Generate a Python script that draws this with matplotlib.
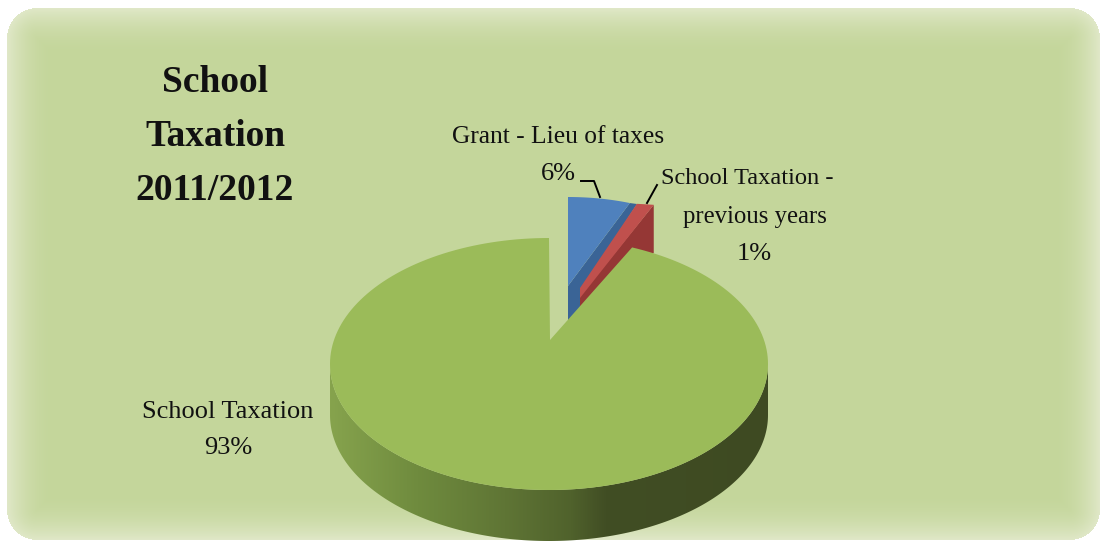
import numpy as np
import matplotlib.pyplot as plt
from matplotlib.colors import LinearSegmentedColormap
from matplotlib.patches import Polygon

# School tax revenue shares, in percent
categories = ['School Taxation', 'Grant - Lieu of taxes', 'School Taxation -\nprevious years']
shares = [93, 6, 1]
title_lines = ['School', 'Taxation', '2011/2012']

W, H = 1102, 543
SERIF = 'Liberation Serif'


def arc(cx, cy, a, b, t0, t1, n=200):
    # points on an ellipse, angle measured clockwise from 12 o'clock
    t = np.radians(np.linspace(t0, t1, n))
    return np.column_stack([cx + a * np.sin(t), cy - b * np.cos(t)])


def soft_panel():
    # rounded panel with edges fading out to white
    x0, y0, x1, y1, r = 7, 8, 1100, 540, 30
    xx, yy = np.meshgrid(np.arange(W) + 0.5, np.arange(H) + 0.5)
    qx = np.abs(xx - (x0 + x1) / 2) - ((x1 - x0) / 2 - r)
    qy = np.abs(yy - (y0 + y1) / 2) - ((y1 - y0) / 2 - r)
    dist = np.hypot(np.maximum(qx, 0), np.maximum(qy, 0)) + np.minimum(np.maximum(qx, qy), 0) - r
    ramp = 1 - (1 - np.clip(-dist / 48, 0, 1)) ** 2
    core = np.array([196, 214, 155]) / 255
    edge = np.array([224, 232, 200]) / 255
    img = edge + (core - edge) * ramp[..., None]
    img[dist > 0] = 1
    return img


fig = plt.figure(figsize=(W / 100, H / 100), dpi=100)
ax = fig.add_axes([0, 0, 1, 1])
ax.set_xlim(0, W)
ax.set_ylim(H, 0)
ax.axis('off')
ax.imshow(soft_panel(), extent=(0, W, H, 0), aspect='auto', zorder=0)

# slice angles come from the shares, the far side is squeezed a bit by the 3D view
blue_end = shares[1] * 3.6
red_end = blue_end + shares[2] * 3.6
main_start = red_end * 0.885

# main slice geometry
cx, cy, a, b, depth = 549, 364, 219, 126, 51
apex = (550, 340)

# side wall of the main slice, shaded left to right
lower = arc(cx, cy, a, b, 90, 270)
wall = np.vstack([lower, lower[::-1] + [0, depth]])
wall_patch = Polygon(wall, closed=True, fc='none', ec='none', zorder=2)
ax.add_patch(wall_patch)
shade = LinearSegmentedColormap.from_list('wall', [
    (0.0, '#86a34d'), (0.2, '#6f8b3e'), (0.4, '#5f7535'),
    (0.55, '#50622c'), (0.63, '#414e24'), (1.0, '#3e4a22')])
grad = ax.imshow(np.linspace(0, 1, 256)[None, :], extent=(cx - a, cx + a, H, 0),
                 aspect='auto', cmap=shade, zorder=2)
grad.set_clip_path(wall_patch)

# blue slice, side wall first
blue_top = arc(568, 283, 168, 86, 0, blue_end)
ax.add_patch(Polygon([(568, 286), blue_top[-1], (637, 204), (580, 292), (580, 310), (568, 330)],
                     closed=True, fc='#3a6496', ec='none', zorder=3))
ax.add_patch(Polygon(np.vstack([[(568, 286)], blue_top]), closed=True,
                     fc='#4f81bd', ec='none', zorder=4))

# red slice
red_top = arc(529, 241, 293, 40, blue_end, red_end)
ax.add_patch(Polygon([(580, 296), red_top[-1], red_top[-1] + [0, 48], (580, 330)],
                     closed=True, fc='#953735', ec='none', zorder=5))
ax.add_patch(Polygon(np.vstack([[(580, 288), (580, 298)], red_top[::-1]]), closed=True,
                     fc='#c0504d', ec='none', zorder=6))

# top face of the main slice goes over the small ones
top = np.vstack([[apex], arc(cx, cy, a, b, main_start, 360)])
ax.add_patch(Polygon(top, closed=True, fc='#9bbb59', ec='none', zorder=7))

# leader lines
ax.plot([581, 594, 600], [181, 181, 197], color='black', lw=1.4, zorder=8)
ax.plot([657, 647], [185, 203], color='black', lw=1.4, zorder=8)

# data labels
label_kw = dict(family=SERIF, color='#111111', ha='center', va='center', zorder=9)
ax.text(228, 412, categories[0], fontsize=19, **label_kw)
ax.text(228, 448, f'{shares[0]}%', fontsize=19, **label_kw)
ax.text(558, 137, categories[1], fontsize=18.4, **label_kw)
ax.text(558, 174, f'{shares[1]}%', fontsize=19, **label_kw)
ax.text(747, 178, categories[2].split('\n')[0], fontsize=17.6, **label_kw)
ax.text(755, 217, categories[2].split('\n')[1], fontsize=17.8, **label_kw)
ax.text(754, 254, f'{shares[2]}%', fontsize=19, **label_kw)

# title
for line, y in zip(title_lines, [83, 136, 190]):
    ax.text(215, y, line, family=SERIF, fontsize=27, fontweight='bold', color='#111111',
            ha='center', va='center', zorder=9)

fig.savefig('out.png', dpi=100)
